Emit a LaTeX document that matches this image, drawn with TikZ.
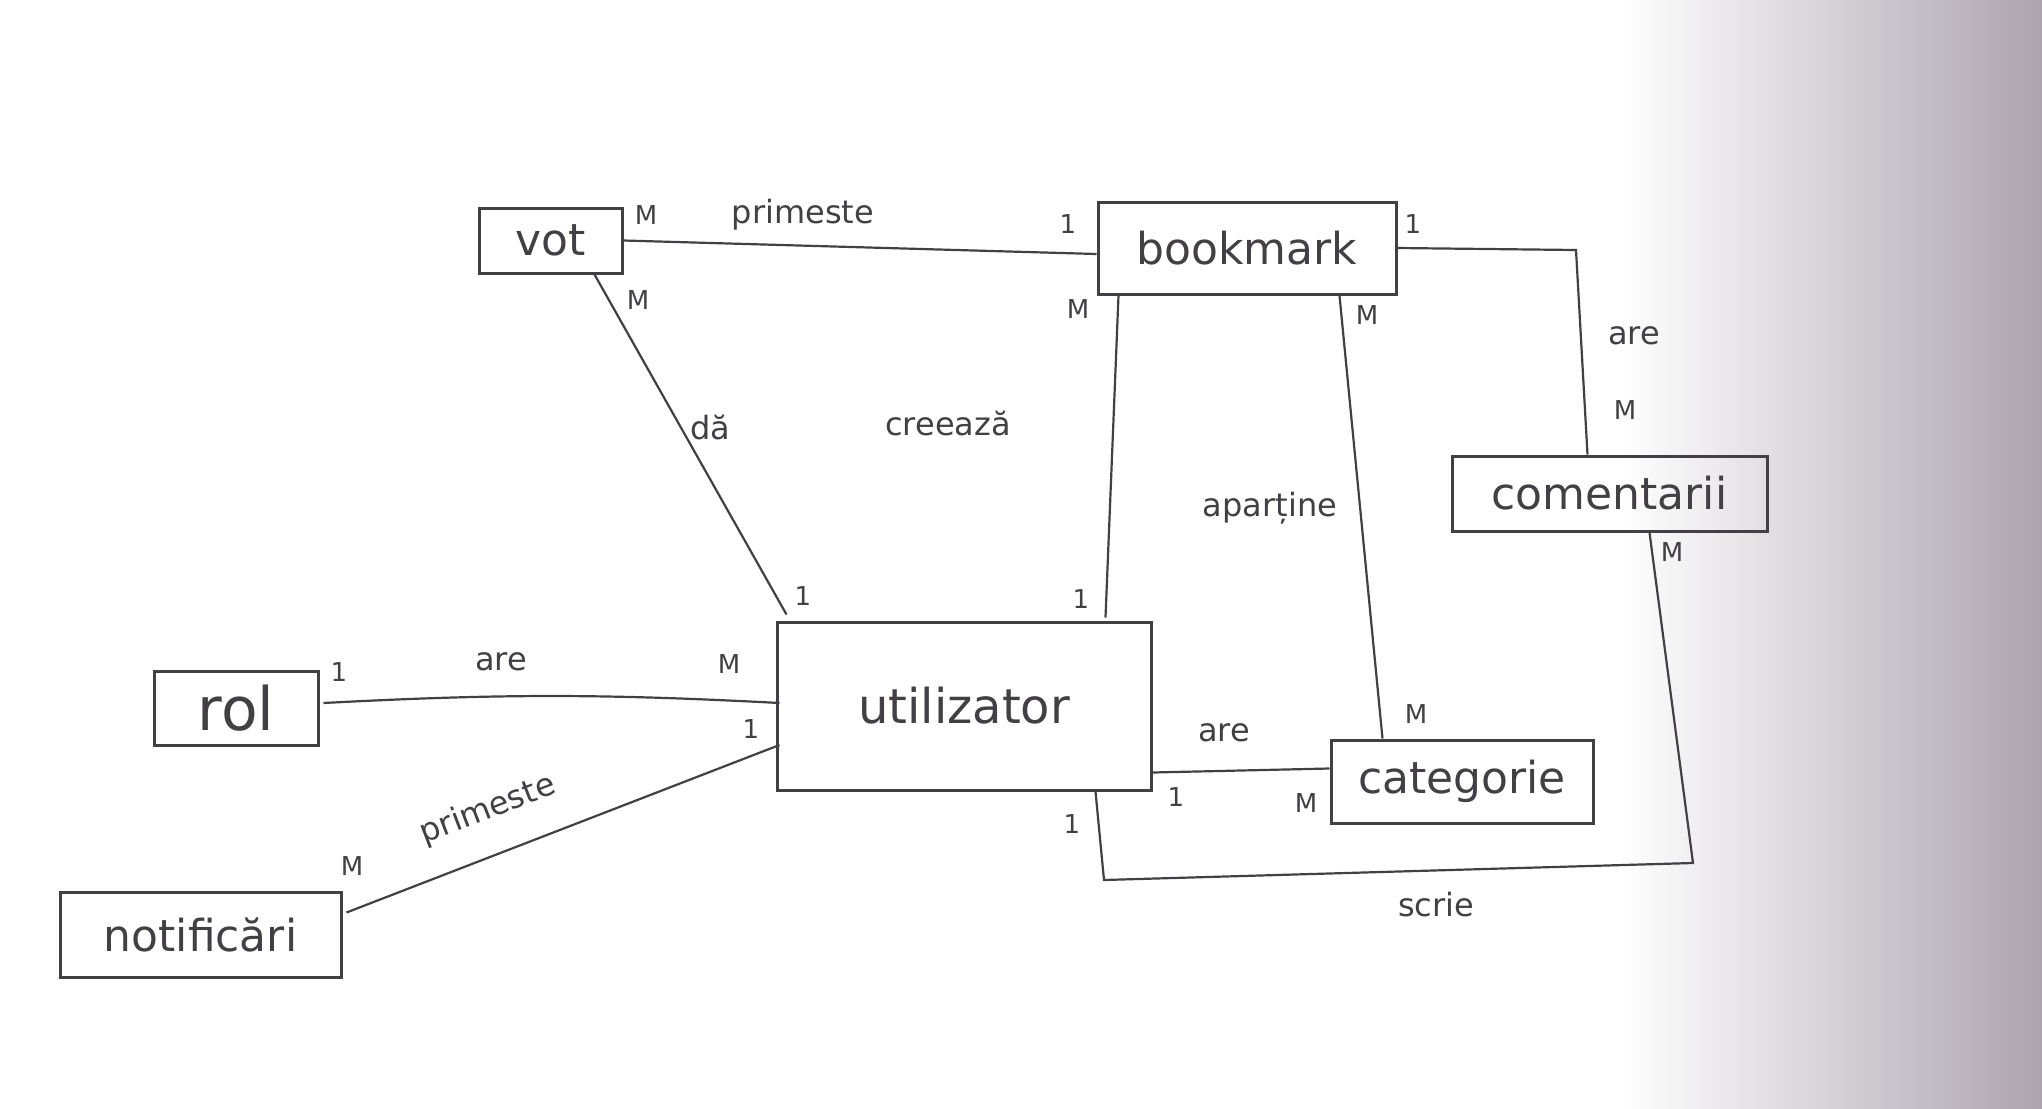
\documentclass[tikz,border=0pt]{standalone}
\usepackage{fontspec}
\setmainfont{DejaVu Sans}
\usetikzlibrary{calc}
\definecolor{ink}{RGB}{66,64,68}
\definecolor{paper}{RGB}{172,164,174}
\begin{document}
\begin{tikzpicture}[x=0.5pt,y=-0.5pt,
  entity/.style={draw=ink, line width=1.5pt, rectangle, inner sep=0pt, text=ink, font=\fontsize{22}{26}\selectfont},
  rel/.style={draw=ink, line width=1.1pt},
  lbl/.style={text=ink, font=\fontsize{16}{19}\selectfont, inner sep=1pt},
  card/.style={text=ink, font=\fontsize{13}{15}\selectfont, inner sep=1pt}]
\fill[white] (0,0) rectangle (2042,1109);
\shade[left color=white, right color=paper] (1620,0) rectangle (2042,1109);
\useasboundingbox (0,0) rectangle (2042,1109);

% entities
\node[entity, minimum width=71.5pt, minimum height=32.5pt] (vot) at (550.5,240.5) {vot};
\node[entity, minimum width=149pt, minimum height=46pt] (bookmark) at (1247,248) {bookmark};
\node[entity, minimum width=157.5pt, minimum height=37.5pt] (comentarii) at (1609.5,493.5) {comentarii};
\node[entity, minimum width=187pt, minimum height=84pt, font=\fontsize{24}{28}\selectfont] (utilizator) at (964,706) {utilizator};
\node[entity, minimum width=131pt, minimum height=41.5pt] (categorie) at (1462,781.5) {categorie};
\node[entity, minimum width=82pt, minimum height=37pt, font=\fontsize{30}{34}\selectfont] (rol) at (236,708) {rol};
\node[entity, minimum width=140.5pt, minimum height=42.5pt] (notificari) at (200.5,934.5) {notificări};

% vot - bookmark : primeste
\draw[rel] (vot.east) -- ($(bookmark.west)+(0,6)$);
\node[card] (c1) at (646,215) {M};
\node[lbl] (l1) at (803,215) {primeste};
\node[card] (c2) at (1068,224) {1};

% vot - utilizator : da
\draw[rel] ($(vot.south east)+(-29,0)$) -- ($(utilizator.north west)+(11,-6)$);
\node[card] (c3) at (638,300) {M};
\node[lbl] (l2) at (710,427) {dă};
\node[card] (c4) at (803,596) {1};

% bookmark - utilizator : creeaza
\draw[rel] ($(bookmark.south west)+(22,0)$) -- ($(utilizator.north west)+(330,-3)$);
\node[card] (c5) at (1078,309) {M};
\node[lbl] (l3) at (948,423) {creează};
\node[card] (c6) at (1081,599) {1};

% bookmark - categorie : apartine
\draw[rel] ($(bookmark.south west)+(243,0)$) -- ($(categorie.north west)+(53,0)$);
\node[card] (c7) at (1367,315) {M};
\node[lbl] (l4) at (1270,508) {aparține};
\node[card] (c8) at (1416,714) {M};

% bookmark - comentarii : are
\draw[rel] (bookmark.east) -- (1576,250) -- ($(comentarii.north west)+(137,0)$);
\node[card] (c9) at (1413,224) {1};
\node[lbl] (l5) at (1634,336) {are};
\node[card] (c10) at (1625,410) {M};

% comentarii - utilizator : scrie
\draw[rel] ($(comentarii.south west)+(199,0)$) -- (1693,863) -- (1104,880) -- ($(utilizator.south west)+(320,0)$);
\node[card] (c11) at (1672,552) {M};
\node[card] (c12) at (1072,824) {1};
\node[lbl] (l6) at (1436,905) {scrie};

% utilizator - categorie : are
\draw[rel] ($(utilizator.south east)+(0,-19)$) -- ($(categorie.west)+(0,-13)$);
\node[lbl] (l7) at (1224,733) {are};
\node[card] (c13) at (1176,797) {1};
\node[card] (c14) at (1306,803) {M};

% rol - utilizator : are
\draw[rel] ($(rol.east)+(4,-5)$) to[bend left=3] ($(utilizator.west)+(4,-3)$);
\node[card] (c15) at (339,672) {1};
\node[lbl] (l8) at (501,662) {are};
\node[card] (c16) at (729,664) {M};

% notificari - utilizator : primeste
\draw[rel] ($(notificari.east)+(4,-22)$) -- ($(utilizator.west)+(4,39)$);
\node[lbl, rotate=21] (l9) at (488,810) {primeste};
\node[card] (c17) at (352,866) {M};
\node[card] (c18) at (751,729) {1};
\end{tikzpicture}
\end{document}
